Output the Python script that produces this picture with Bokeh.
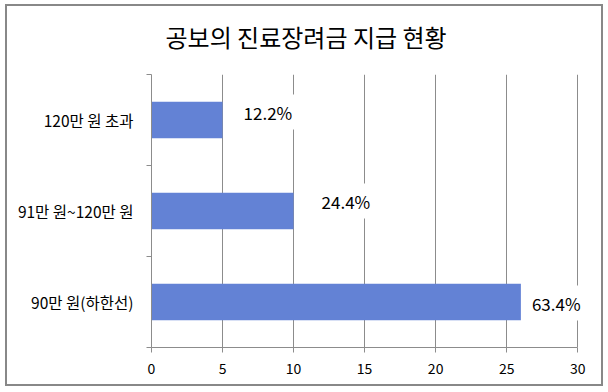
from bokeh.plotting import figure
from bokeh.models import Range1d, FixedTicker, ColumnDataSource, Column, LinearAxis, Title
from bokeh.core.properties import value
from bokeh.embed import file_html
from bokeh.resources import INLINE

# ---- data ----
title_text = "공보의 진료장려금 지급 현황"
categories = ["90만 원(하한선)", "91만 원~120만 원", "120만 원 초과"]
counts = [26, 10, 5]
pct_labels = ["63.4%", "24.4%", "12.2%"]
x_ticks = [0, 5, 10, 15, 20, 25, 30]

# ---- label placement (styling, pixels) ----
label_dx = [6, 23, 16]
label_dy = [1, -10, -8]

FONT = "Noto Sans CJK KR"
GRID = "#8c8c8c"
BAR = "#6382D5"

ypos = [i + 0.5 for i in range(len(categories))]
src = ColumnDataSource(dict(y=ypos, count=counts, label=pct_labels, dx=label_dx, dy=label_dy))

p = figure(width=594, height=378, output_backend="svg", toolbar_location=None,
           x_range=Range1d(x_ticks[0], 30.9), y_range=Range1d(0, len(categories)),
           min_border_left=144, min_border_right=11, min_border_top=68, min_border_bottom=37)

p.outline_line_color = None
p.background_fill_color = "white"
p.border_fill_color = "white"

# invisible spacer between plot area and title (one hidden tick gives it height)
spacer = LinearAxis(ticker=FixedTicker(ticks=[x_ticks[3]]), axis_line_color=None,
                    major_tick_line_color=None, minor_tick_line_color=None,
                    major_tick_out=16, major_tick_in=0, minor_tick_out=0, minor_tick_in=0,
                    major_label_standoff=0, major_label_text_font_size="1px",
                    major_label_text_alpha=0)
p.add_layout(spacer, "above")

p.add_layout(Title(text=title_text, align="left", offset=14, text_font=FONT,
                   text_font_size="24px", text_font_style="normal",
                   text_color="#000000", standoff=10), "above")

# x axis
xax = p.below[0]
xax.ticker = FixedTicker(ticks=x_ticks)
xax.bounds = (x_ticks[0], x_ticks[-1])
xax.axis_line_color = GRID
xax.major_tick_line_color = GRID
xax.major_tick_out = 5
xax.major_tick_in = 0
xax.minor_tick_line_color = None
xax.major_label_text_font = FONT
xax.major_label_text_font_size = "14px"
xax.major_label_text_color = "#000000"
xax.major_label_standoff = 10
p.xgrid.ticker = FixedTicker(ticks=x_ticks)
p.xgrid.bounds = (x_ticks[0], x_ticks[-1])
p.xgrid.grid_line_color = GRID
p.ygrid.grid_line_color = None

# y axis
p.yaxis.ticker = FixedTicker(ticks=ypos, minor_ticks=list(range(len(categories) + 1)))
p.yaxis.major_label_overrides = {y: c for y, c in zip(ypos, categories)}
p.yaxis.axis_line_color = GRID
p.yaxis.major_tick_line_color = None
p.yaxis.major_tick_out = 0
p.yaxis.major_tick_in = 0
p.yaxis.minor_tick_line_color = GRID
p.yaxis.minor_tick_out = 5
p.yaxis.minor_tick_in = 0
p.yaxis.major_label_text_font = FONT
p.yaxis.major_label_text_font_size = "15.5px"
p.yaxis.major_label_text_color = "#000000"
p.yaxis.major_label_standoff = 13

# bars
p.hbar(y="y", left=0, right="count", height=0.4, source=src,
       fill_color=BAR, line_color=None)

# value labels
p.text(x="count", y="y", text="label", x_offset="dx", y_offset="dy", source=src,
       text_font=value("Noto Sans CJK KR"), text_font_size="17px", text_color="#000000",
       text_align="left", text_baseline="middle",
       background_fill_color="white", padding=5)

# chart border around the figure
layout = Column(children=[p], margin=(4, 0, 0, 5),
                styles={"border": "2px solid #888888"})

open("out.html", "w").write(file_html(layout, INLINE))
